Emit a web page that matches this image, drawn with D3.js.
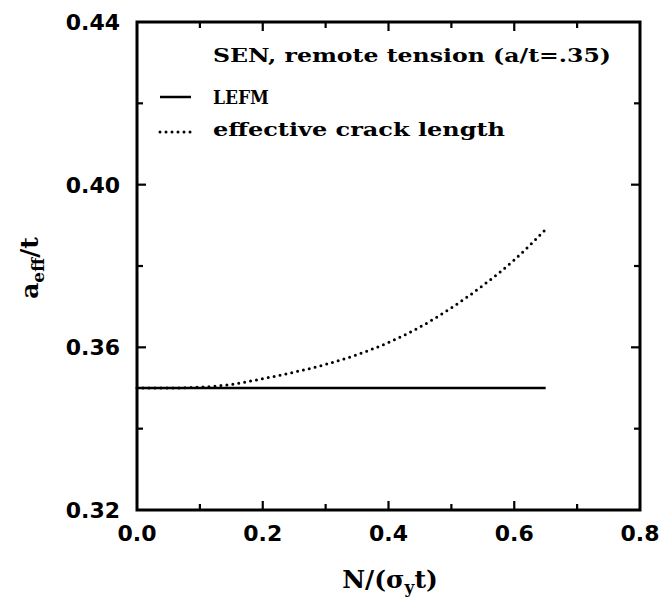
<!DOCTYPE html>
<html>
<head>
<meta charset="utf-8">
<script src="https://cdn.jsdelivr.net/npm/d3@7"></script>
<style>
  html, body { margin: 0; padding: 0; background: #fff; }
  svg { display: block; }
  .tick-label { font-family: "DejaVu Sans", sans-serif; font-weight: bold; font-size: 22px; fill: #000; }
  .legend-text { font-family: "DejaVu Serif", serif; font-weight: bold; font-size: 19px; fill: #000; }
  .axis-title { font-family: "DejaVu Serif", serif; font-weight: bold; font-size: 25px; fill: #000; }
</style>
</head>
<body>
<svg id="chart" width="672" height="609"></svg>
<script>
// Normalised applied load N/(sigma_y t)
const loadValues = [0.00, 0.05, 0.10, 0.15, 0.20, 0.25, 0.30, 0.35, 0.40, 0.45, 0.50, 0.55, 0.60, 0.65];
// LEFM crack length ratio (constant a/t)
const lefmValues = [0.350, 0.350, 0.350, 0.350, 0.350, 0.350, 0.350, 0.350, 0.350, 0.350, 0.350, 0.350, 0.350, 0.350];
// Effective crack length ratio a_eff/t
const effectiveValues = [0.3500, 0.3500, 0.3502, 0.3509, 0.3523, 0.3539, 0.3558, 0.3582, 0.3612, 0.3650, 0.3697, 0.3752, 0.3815, 0.3890];

const xTickLabels = ["0.0", "0.2", "0.4", "0.6", "0.8"];
const yTickLabels = ["0.32", "0.36", "0.40", "0.44"];
const xMinorTicks = [0.1, 0.3, 0.5, 0.7];
const yMinorTicks = [0.34, 0.38, 0.42];

const legendTitle = "SEN, remote tension (a/t=.35)";
const legendLabels = ["LEFM", "effective crack length"];

const svg = d3.select("#chart");
const plotLeft = 137, plotRight = 640, plotTop = 22, plotBottom = 510;

const x = d3.scaleLinear().domain([0, 0.8]).range([plotLeft, plotRight]);
const y = d3.scaleLinear().domain([0.32, 0.44]).range([plotBottom, plotTop]);

const xMajor = xTickLabels.map(Number);
const yMajor = yTickLabels.map(Number);

// Ticks pointing inward on all four sides
const majorLen = 9, minorLen = 6;
const tickG = svg.append("g").attr("stroke", "#000").attr("stroke-width", 2.2);
function xTicks(vals, len) {
  vals.forEach(v => {
    tickG.append("line").attr("x1", x(v)).attr("x2", x(v)).attr("y1", plotBottom).attr("y2", plotBottom - len);
    tickG.append("line").attr("x1", x(v)).attr("x2", x(v)).attr("y1", plotTop).attr("y2", plotTop + len);
  });
}
function yTicks(vals, len) {
  vals.forEach(v => {
    tickG.append("line").attr("y1", y(v)).attr("y2", y(v)).attr("x1", plotLeft).attr("x2", plotLeft + len);
    tickG.append("line").attr("y1", y(v)).attr("y2", y(v)).attr("x1", plotRight).attr("x2", plotRight - len);
  });
}
xTicks(xMajor.slice(1, -1), majorLen);
xTicks(xMinorTicks, minorLen);
yTicks(yMajor.slice(1, -1), majorLen);
yTicks(yMinorTicks, minorLen);

// Frame
svg.append("rect")
  .attr("x", plotLeft).attr("y", plotTop)
  .attr("width", plotRight - plotLeft).attr("height", plotBottom - plotTop)
  .attr("fill", "none").attr("stroke", "#000").attr("stroke-width", 3);

// Tick labels
svg.selectAll(".xl").data(xTickLabels).enter().append("text")
  .attr("class", "tick-label")
  .attr("x", d => x(+d)).attr("y", 541)
  .attr("text-anchor", "middle")
  .text(d => d);

svg.selectAll(".yl").data(yTickLabels).enter().append("text")
  .attr("class", "tick-label")
  .attr("x", 120).attr("y", d => y(+d) + 8)
  .attr("text-anchor", "end")
  .text(d => d);

// Series
const lefmPts = loadValues.map((v, i) => [v, lefmValues[i]]);
const effPts = loadValues.map((v, i) => [v, effectiveValues[i]]);

svg.append("path").datum(lefmPts)
  .attr("d", d3.line().x(d => x(d[0])).y(d => y(d[1])))
  .attr("fill", "none").attr("stroke", "#000").attr("stroke-width", 2.5);

svg.append("path").datum(effPts)
  .attr("d", d3.line().x(d => x(d[0])).y(d => y(d[1])).curve(d3.curveMonotoneX))
  .attr("fill", "none").attr("stroke", "#000").attr("stroke-width", 3)
  .attr("stroke-linecap", "round")
  .attr("stroke-dasharray", "0 6");

// Legend
svg.append("text").attr("class", "legend-text")
  .attr("x", 213).attr("y", 62)
  .attr("textLength", 398).attr("lengthAdjust", "spacingAndGlyphs")
  .text(legendTitle);

svg.append("line").attr("x1", 160).attr("x2", 191).attr("y1", 97).attr("y2", 97)
  .attr("stroke", "#000").attr("stroke-width", 2.5);
svg.append("text").attr("class", "legend-text")
  .attr("x", 213).attr("y", 104)
  .attr("textLength", 56).attr("lengthAdjust", "spacingAndGlyphs")
  .text(legendLabels[0]);

svg.append("line").attr("x1", 160).attr("x2", 191).attr("y1", 132).attr("y2", 132)
  .attr("stroke", "#000").attr("stroke-width", 3)
  .attr("stroke-linecap", "round").attr("stroke-dasharray", "0 6");
svg.append("text").attr("class", "legend-text")
  .attr("x", 213).attr("y", 136)
  .attr("textLength", 292).attr("lengthAdjust", "spacingAndGlyphs")
  .text(legendLabels[1]);

// Axis titles
const xt = svg.append("text").attr("class", "axis-title")
  .attr("x", 390).attr("y", 588).attr("text-anchor", "middle");
xt.append("tspan").text("N/(σ");
xt.append("tspan").attr("font-size", 17).attr("dy", 5).text("y");
xt.append("tspan").attr("dy", -5).text("t)");

const yt = svg.append("text").attr("class", "axis-title")
  .attr("transform", "translate(38,268) rotate(-90)")
  .attr("text-anchor", "middle")
  .attr("font-size", 28);
yt.append("tspan").text("a");
yt.append("tspan").attr("font-size", 17).attr("dy", 6).text("eff");
yt.append("tspan").attr("dy", -6).text("/t");
</script>
</body>
</html>
